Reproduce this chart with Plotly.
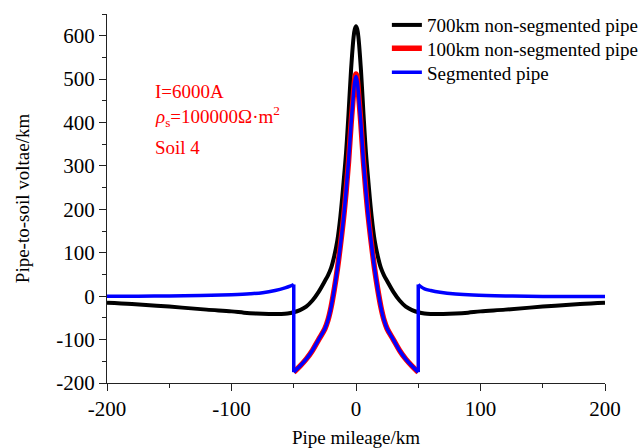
import plotly.graph_objects as go

# ---- data ----
black_x = [-200, -180, -150, -120, -100, -90, -80, -70, -60, -55, -50, -45, -40, -35, -30, -25, -22.5, -20,
           -17.5, -15, -12.5, -10, -8, -6, -4, -2, -1, 0, 1, 2, 4, 6, 8, 10, 12.5, 15, 17.5, 20, 22.5, 25,
           30, 35, 40, 45, 50, 55, 60, 70, 80, 90, 100, 120, 150, 180, 200]
black_y = [-15, -18, -24, -31, -35, -38, -40, -41, -41, -40, -37, -32, -24, -10, 10, 35, 48, 65,
           92, 128, 185, 262, 330, 420, 520, 595, 615, 622, 615, 595, 520, 420, 330, 262, 185, 128, 92, 65, 48, 35,
           10, -10, -24, -32, -37, -40, -41, -41, -40, -38, -35, -31, -24, -18, -15]

red_x = [-50, -45, -40, -35, -30, -25, -22.5, -20, -17.5, -15, -12.5, -10, -8, -6, -4, -2, -1, 0,
         1, 2, 4, 6, 8, 10, 12.5, 15, 17.5, 20, 22.5, 25, 30, 35, 40, 45, 50]
red_y = [-175, -161, -145, -125, -100, -75, -55, -25, 15, 62, 118, 180, 240, 310, 395, 468, 500, 512,
         500, 468, 395, 310, 240, 180, 118, 62, 15, -25, -55, -75, -100, -125, -145, -161, -175]

# segmented pipe: outer left section, central section, outer right section
blue_left_x = [-200, -175, -150, -125, -100, -85, -75, -65, -57, -53, -50]
blue_left_y = [0, 0, 0.5, 1.5, 3.5, 5.5, 8, 13, 19, 23, 27]
blue_mid_x = [-50, -45, -40, -35, -30, -25, -22.5, -20, -17.5, -15, -12.5, -10, -8, -6, -4, -2, -1, 0,
              1, 2, 4, 6, 8, 10, 12.5, 15, 17.5, 20, 22.5, 25, 30, 35, 40, 45, 50]
blue_mid_y = [-175, -161, -145, -125, -100, -75, -55, -25, 15, 62, 118, 180, 240, 310, 395, 466, 494, 506,
              494, 466, 395, 310, 240, 180, 118, 62, 15, -25, -55, -75, -100, -125, -145, -161, -175]
blue_right_x = [50, 52, 55, 60, 67.5, 80, 94, 120, 150, 200]
blue_right_y = [27, 22, 17, 13, 9, 5, 2.5, 0.5, -0.5, -1]

x_tick_vals = [-200, -100, 0, 100, 200]
x_tick_text = ["-200", "-100", "0", "100", "200"]
y_tick_vals = [-200, -100, 0, 100, 200, 300, 400, 500, 600]
y_tick_text = ["-200", "-100", "0", "100", "200", "300", "400", "500", "600"]

FONT = "Liberation Serif, Times New Roman, serif"
BLUE = "#0000ff"

fig = go.Figure()
fig.add_trace(go.Scatter(x=black_x, y=black_y, mode="lines", name="700km non-segmented pipe",
                         line=dict(color="#000000", width=4, shape="spline", smoothing=1.0),
                         legend="legend"))
fig.add_trace(go.Scatter(x=red_x, y=red_y, mode="lines", name="100km non-segmented pipe",
                         line=dict(color="#ff0000", width=5.5, shape="spline", smoothing=1.0),
                         legend="legend2"))
# vertical jumps of the segmented pipe at the insulating joints
jump_x = [blue_left_x[-1], blue_mid_x[0], None, blue_mid_x[-1], blue_right_x[0]]
jump_y = [blue_left_y[-1], blue_mid_y[0], None, blue_mid_y[-1], blue_right_y[0]]
fig.add_trace(go.Scatter(x=jump_x, y=jump_y, mode="lines", name="Segmented pipe", legendgroup="seg",
                         showlegend=False, line=dict(color=BLUE, width=3.5), legend="legend3"))
fig.add_trace(go.Scatter(x=blue_left_x, y=blue_left_y, mode="lines", name="Segmented pipe", legendgroup="seg",
                         showlegend=False, line=dict(color=BLUE, width=3.5, shape="spline", smoothing=1.0),
                         legend="legend3"))
fig.add_trace(go.Scatter(x=blue_right_x, y=blue_right_y, mode="lines", name="Segmented pipe", legendgroup="seg",
                         showlegend=False, line=dict(color=BLUE, width=3.5, shape="spline", smoothing=1.0),
                         legend="legend3"))
fig.add_trace(go.Scatter(x=blue_mid_x, y=blue_mid_y, mode="lines", name="Segmented pipe", legendgroup="seg",
                         showlegend=True, line=dict(color=BLUE, width=3.5, shape="spline", smoothing=1.0),
                         legend="legend3"))

axis_common = dict(
    showline=True, linecolor="#222222", linewidth=1.3,
    ticks="outside", ticklen=7, tickwidth=1.3, tickcolor="#222222",
    showgrid=False, zeroline=False,
    tickfont=dict(family=FONT, size=21, color="#000000"),
    title_font=dict(family=FONT, size=19, color="#000000"),
    minor=dict(ticks="outside", ticklen=4, tickwidth=1.3, tickcolor="#222222", dtick=50, showgrid=False),
)

fig.update_xaxes(range=[-200, 200], tickmode="array", tickvals=x_tick_vals, ticktext=x_tick_text,
                 title_text="Pipe mileage/km", title_standoff=19, **axis_common)
fig.update_yaxes(range=[-200, 650], tickmode="array", tickvals=y_tick_vals, ticktext=y_tick_text,
                 title_text="Pipe-to-soil voltae/km", title_standoff=21, **axis_common)

ann_font = dict(family=FONT, size=19, color="#ff0000")
fig.add_annotation(x=0.092, y=0.791, xref="paper", yref="paper", xanchor="left", yanchor="middle",
                   text="I=6000A", showarrow=False, font=ann_font)
fig.add_annotation(x=0.092, y=0.722, xref="paper", yref="paper", xanchor="left", yanchor="middle",
                   text="<i>ρ</i><sub>s</sub>=100000Ω·m<sup>2</sup>", showarrow=False, font=ann_font)
fig.add_annotation(x=0.092, y=0.638, xref="paper", yref="paper", xanchor="left", yanchor="middle",
                   text="Soil 4", showarrow=False, font=ann_font)

leg_common = dict(x=0.562, xanchor="left", yanchor="middle", bgcolor="rgba(0,0,0,0)",
                  font=dict(family=FONT, size=19, color="#000000"), itemwidth=30)
fig.update_layout(
    width=644, height=448,
    margin=dict(l=107, r=39, t=14, b=65, autoexpand=False),
    paper_bgcolor="white", plot_bgcolor="white",
    showlegend=True,
    legend=dict(y=0.970, **leg_common),
    legend2=dict(y=0.907, **leg_common),
    legend3=dict(y=0.842, **leg_common),
)

fig.write_html("out.html")
